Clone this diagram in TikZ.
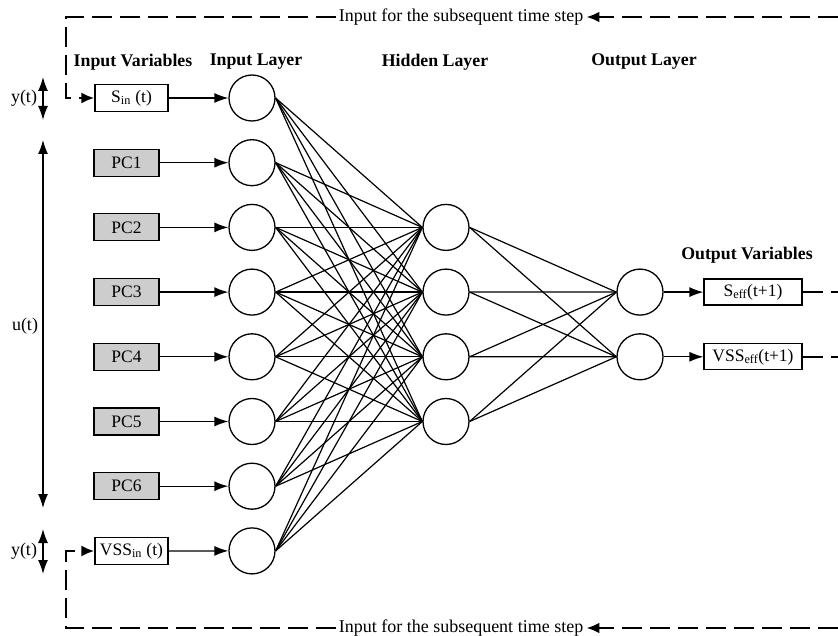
\documentclass[tikz,border=0pt]{standalone}
\usepackage{fontspec}
\setmainfont{Liberation Serif}
\usetikzlibrary{arrows.meta}
\definecolor{pcgray}{RGB}{205,205,205}
\begin{document}
\begin{tikzpicture}[x=1pt,y=-1pt,
  neuron/.style={circle,draw,line width=1.3pt,minimum size=46pt,inner sep=0pt},
  varbox/.style={draw,line width=1.2pt,minimum height=27pt,inner sep=0pt,font=\fontsize{17.5}{20}\selectfont},
  pcbox/.style={varbox,fill=pcgray,minimum width=65pt},
  hdr/.style={font=\fontsize{17.8}{20}\selectfont\bfseries},
  lbl/.style={font=\fontsize{18}{20}\selectfont},
  conn/.style={line width=1.2pt},
  feed/.style={line width=1.3pt,-{Latex[length=14pt,width=10pt]}},
  dbl/.style={line width=1.5pt,{Latex[length=14pt,width=10pt]}-{Latex[length=14pt,width=10pt]}},
  fb/.style={line width=2.5pt,dash pattern=on 20pt off 8pt},
  fbarrow/.style={fb,-{Latex[length=13pt,width=11pt]}}
]
\useasboundingbox (0,0) rectangle (838,636);
\fill[white] (0,0) rectangle (838,636);

% headers
\node[hdr] (h1) at (133,62) {Input Variables};
\node[hdr] (h2) at (256,62) {Input Layer};
\node[hdr] (h3) at (435,62) {Hidden Layer};
\node[hdr] (h4) at (644,62) {Output Layer};
\node[hdr] (h5) at (747,255) {Output Variables};

% input neurons
\foreach \i in {0,...,7}
  \node[neuron] (in\i) at (252,98+64.7*\i) {};
% hidden neurons
\foreach \j in {1,...,4}
  \node[neuron] (hid\j) at (446,162.7+64.7*\j) {};
% output neurons
\node[neuron] (out1) at (640,292.1) {};
\node[neuron] (out2) at (640,356.8) {};

% input variable boxes
\node[varbox,minimum width=73pt] (vin0) at (131.5,98) {S\textsubscript{in} (t)};
\foreach \i in {1,...,6}
  \node[pcbox] (vin\i) at (126.5,98+64.7*\i) {PC\i};
\node[varbox,minimum width=73pt] (vin7) at (131.5,551) {VSS\textsubscript{in} (t)};

% output variable boxes
\node[varbox,minimum width=98pt,minimum height=26pt] (vout1) at (753,292.1) {S\textsubscript{eff}(t+1)};
\node[varbox,minimum width=98pt,minimum height=26pt] (vout2) at (753,356.8) {VSS\textsubscript{eff}(t+1)};

% box -> input neuron
\foreach \i in {0,...,7}
  \draw[feed] (vin\i.east) -- (in\i.west);

% input -> hidden
\foreach \i in {0,...,7}
  \foreach \j in {1,...,4}
    \draw[conn] (in\i.east) -- (hid\j.west);

% hidden -> output
\foreach \j in {1,...,4}
  \foreach \k in {1,2}
    \draw[conn] (hid\j.east) -- (out\k.west);

% output neuron -> box
\draw[feed] (out1.east) -- (vout1.west);
\draw[feed] (out2.east) -- (vout2.west);

% left labels and double arrows
\node[lbl] (ylab1) at (24,98) {y(t)};
\node[lbl] (ylab2) at (24,551) {y(t)};
\node[lbl] (ulab) at (25,326) {u(t)};
\coordinate (ya1) at (43,77);
\coordinate (yb1) at (43,120);
\coordinate (ya2) at (43,529);
\coordinate (yb2) at (43,574);
\coordinate (ua) at (43,140);
\coordinate (ub) at (43,508);
\draw[dbl] (ya1) -- (yb1);
\draw[dbl] (ya2) -- (yb2);
\draw[dbl] (ua) -- (ub);

% feedback loops
\node[lbl,inner sep=3pt] (toptxt) at (461,17) {Input for the subsequent time step};
\node[lbl,inner sep=3pt] (bottxt) at (461,628) {Input for the subsequent time step};
\coordinate (trc) at (838,17);
\coordinate (tlc) at (66,17);
\coordinate (fb0) at (66,98);
\coordinate (brc) at (838,628);
\coordinate (blc) at (66,628);
\coordinate (fb7) at (66,551);
\coordinate (orc1) at (838,292.1);
\coordinate (orc2) at (838,356.8);

\draw[fbarrow] (trc) -- (toptxt.east);
\draw[fbarrow] (toptxt.west) -- (tlc) -- (fb0) -- (vin0.west);
\draw[fbarrow] (brc) -- (bottxt.east);
\draw[fbarrow] (bottxt.west) -- (blc) -- (fb7) -- (vin7.west);
\draw[fb] (vout1.east) -- (orc1);
\draw[fb] (vout2.east) -- (orc2);
\end{tikzpicture}
\end{document}
